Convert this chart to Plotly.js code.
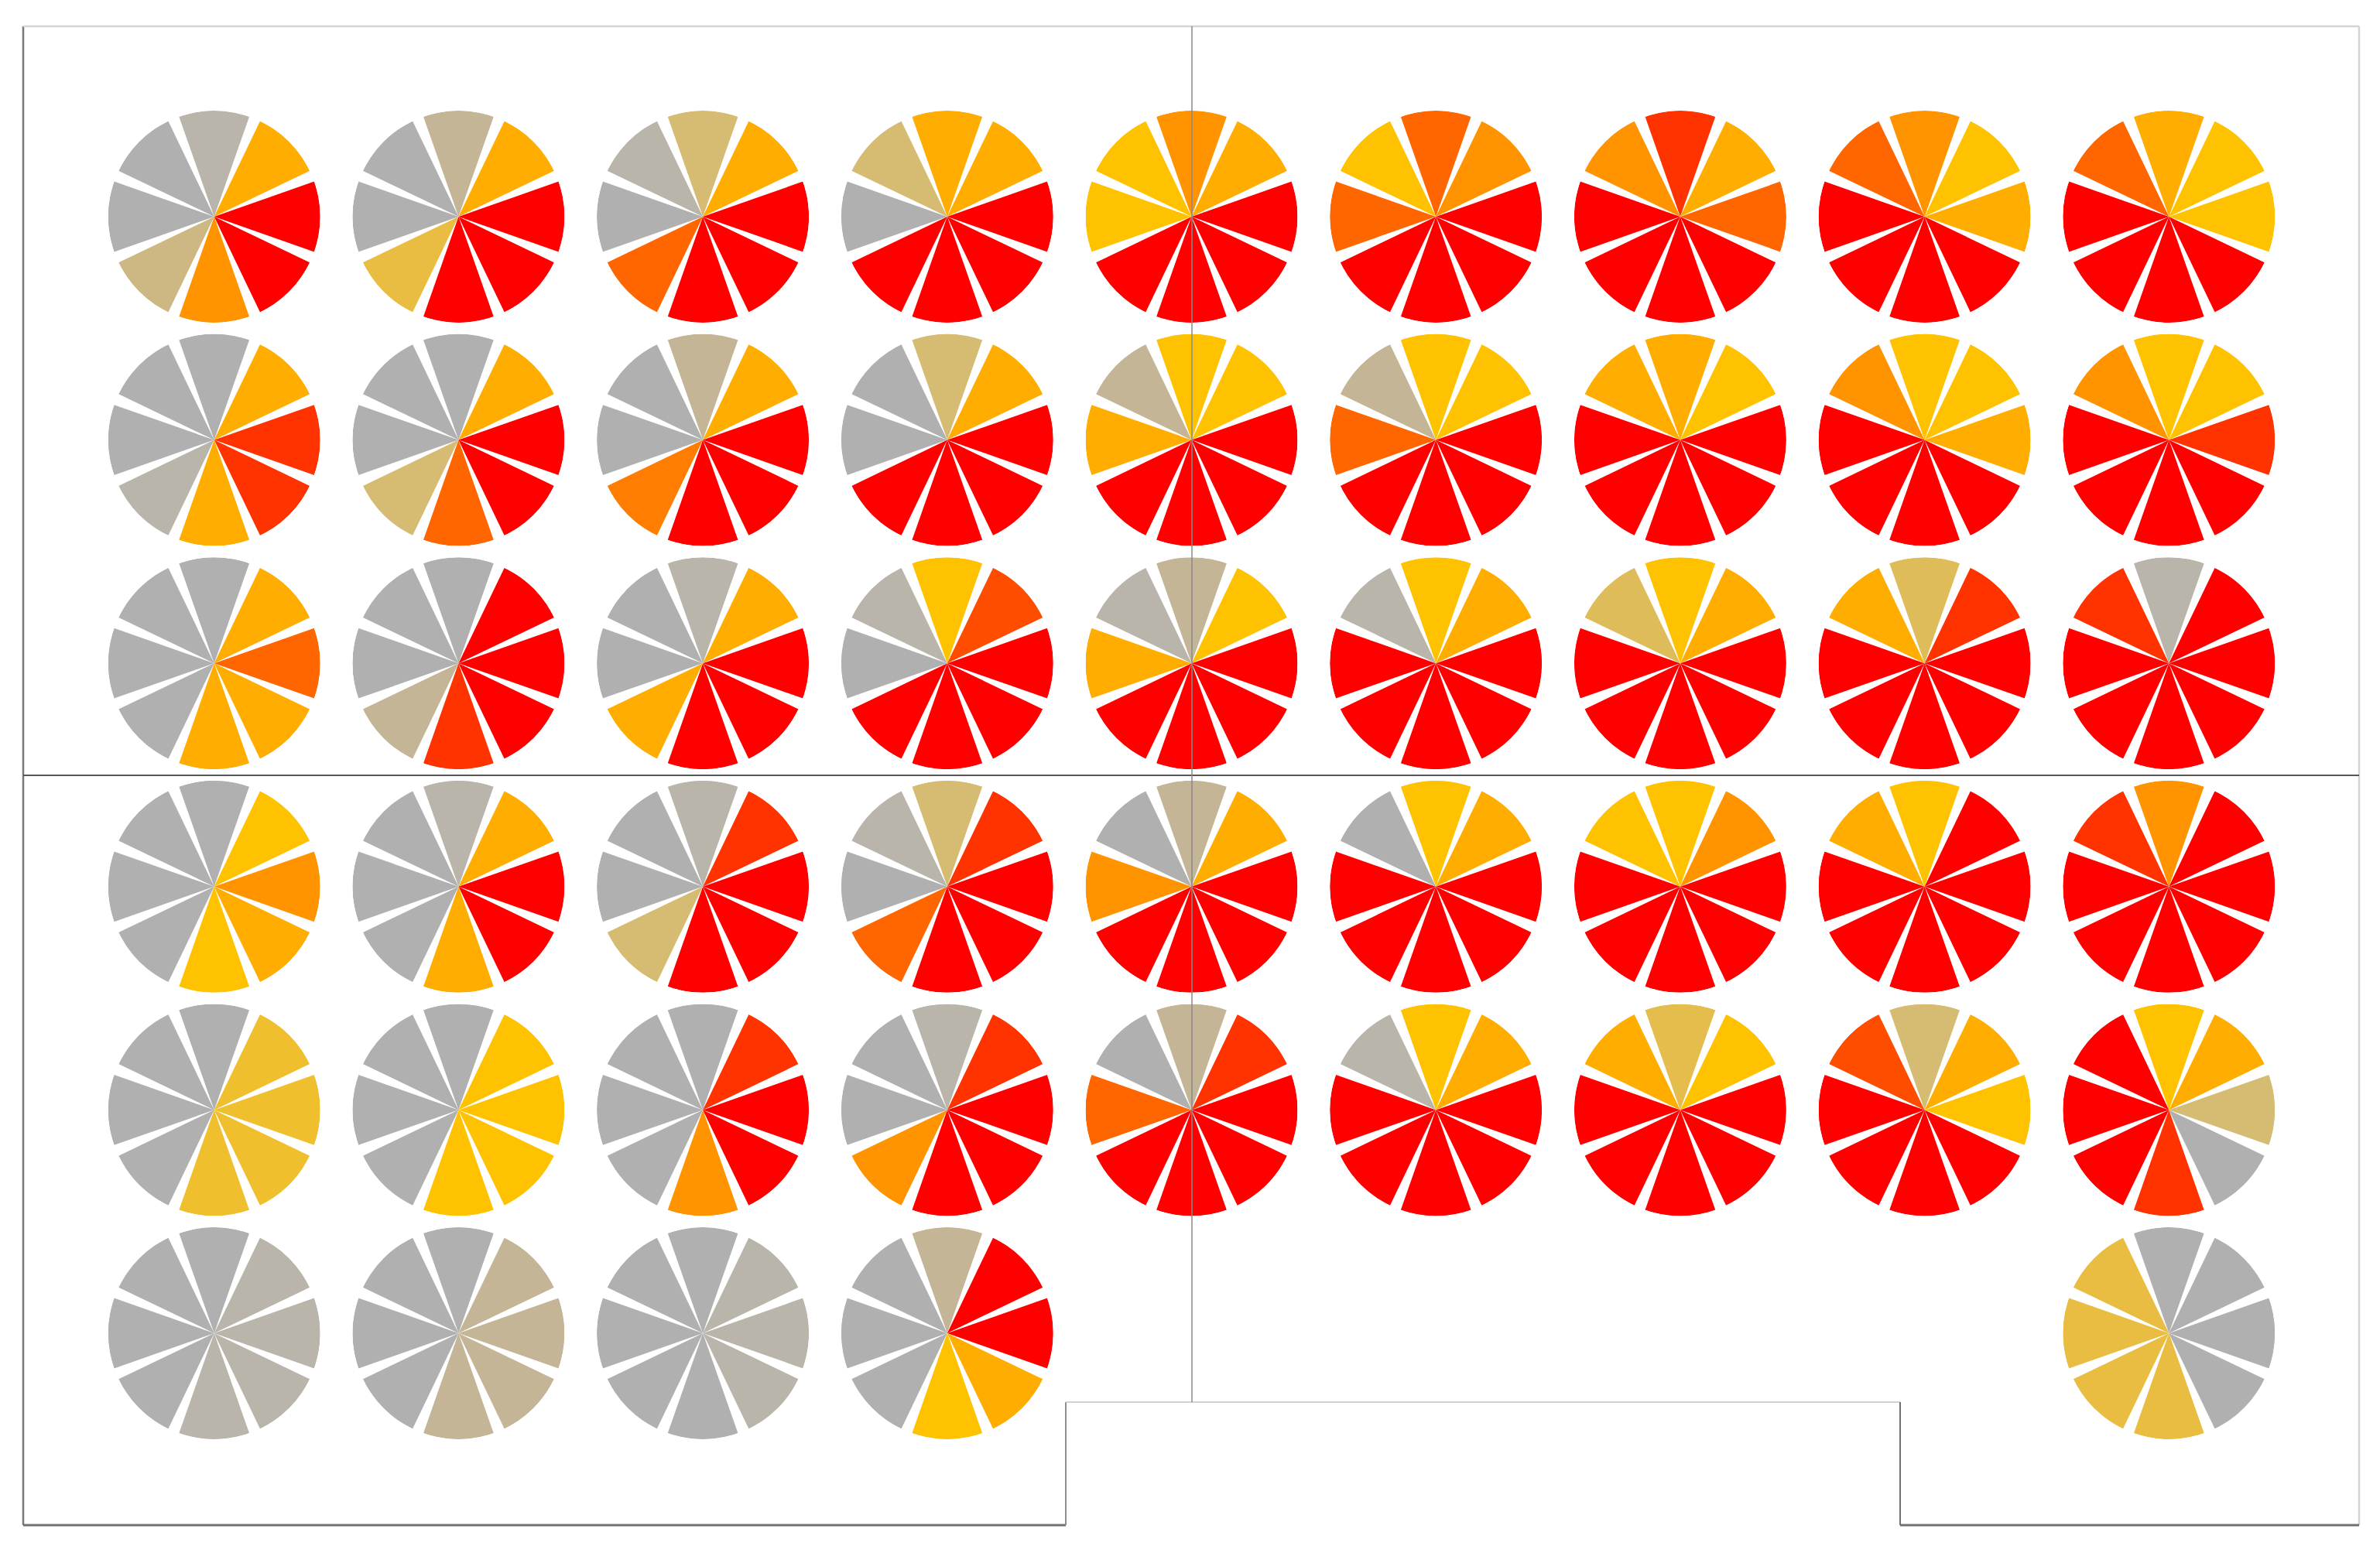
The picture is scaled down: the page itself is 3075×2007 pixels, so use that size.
<!DOCTYPE html>
<html>
<head>
<meta charset="utf-8">
<script src="https://cdn.plot.ly/plotly-3.0.1.min.js"></script>
<style>
  html, body { margin: 0; padding: 0; background: #fff; }
  #chart { width: 3075px; height: 2007px; }
</style>
</head>
<body>
<div id="chart"></div>
<script>
// 8 directions, clockwise from north
const directions = ['N', 'NE', 'E', 'SE', 'S', 'SW', 'W', 'NW'];

// level (0 = grey ... 10 = red) per direction, one glyph per grid point
const row1 = [
  [1, 6, 10, 10, 7, 2.5, 0, 0],
  [2, 6, 10, 10, 10, 4, 0, 0],
  [3, 6, 10, 10, 10, 8, 0, 1],
  [6, 6, 10, 10, 10, 10, 0, 3],
  [7, 6, 10, 10, 10, 10, 5, 5],
  [8, 7, 10, 10, 10, 10, 8, 5],
  [9, 6, 8, 10, 10, 10, 10, 7],
  [7, 5, 6, 10, 10, 10, 10, 8],
  [6, 5, 5, 10, 10, 10, 10, 8]
];
const row2 = [
  [0, 6, 9, 9, 6, 1, 0, 0],
  [0, 6, 10, 10, 8, 3, 0, 0],
  [2, 6, 10, 10, 10, 7.5, 0, 0],
  [3, 6, 10, 10, 10, 10, 0, 0],
  [5, 5, 10, 10, 10, 10, 6, 2],
  [5, 5, 10, 10, 10, 10, 8, 2],
  [6, 5, 10, 10, 10, 10, 10, 6],
  [5, 5, 6, 10, 10, 10, 10, 7],
  [5, 5, 9, 10, 10, 10, 10, 7]
];
const row3 = [
  [0, 6, 8, 6, 6, 0, 0, 0],
  [0, 10, 10, 10, 9, 2, 0, 0],
  [1, 6, 10, 10, 10, 6, 0, 0],
  [5, 8.5, 10, 10, 10, 10, 0, 1],
  [2, 5, 10, 10, 10, 10, 6, 1],
  [5, 6, 10, 10, 10, 10, 10, 1],
  [5, 6, 10, 10, 10, 10, 10, 3.5],
  [3.5, 9, 10, 10, 10, 10, 10, 6],
  [1, 10, 10, 10, 10, 10, 10, 9]
];
const row4 = [
  [0, 5, 7, 6, 5, 0, 0, 0],
  [1, 6, 10, 10, 6, 0, 0, 0],
  [1, 9, 10, 10, 10, 3, 0, 0],
  [3, 9, 10, 10, 10, 8, 0, 1],
  [2, 6, 10, 10, 10, 10, 7, 0],
  [5, 6, 10, 10, 10, 10, 10, 0],
  [5, 7, 10, 10, 10, 10, 10, 5],
  [5, 10, 10, 10, 10, 10, 10, 6],
  [7, 10, 10, 10, 10, 10, 10, 9]
];
const row5 = [
  [0, 4.3, 4.3, 4.3, 4.3, 0, 0, 0],
  [0, 5, 5, 5, 5, 0, 0, 0],
  [0, 9, 10, 10, 7, 0, 0, 0],
  [1, 9, 10, 10, 10, 7, 0, 0],
  [2, 9, 10, 10, 10, 10, 8, 0],
  [5, 6, 10, 10, 10, 10, 10, 1],
  [3.8, 5, 10, 10, 10, 10, 10, 6],
  [3, 6, 5, 10, 10, 10, 10, 8.5],
  [5, 6, 3, 0, 9, 10, 10, 10]
];
const row6 = [
  [0, 1, 1, 1, 1, 0, 0, 0],
  [0, 2, 2, 2, 2, 0, 0, 0],
  [0, 1, 1, 1, 0, 0, 0, 0],
  [2, 10, 10, 6, 5, 0, 0, 0],
  null, null, null, null,
  [0, 0, 0, 0, 4, 4, 4, 4]
];
const rows = [row1, row2, row3, row4, row5, row6];

// colour for each level 0..10
const levelColors = [
  '#b0b0b0', '#b9b5ab', '#c4b596', '#d6bb72', '#e8bd42',
  '#ffc200', '#ffad00', '#ff9400', '#ff6600', '#ff3300', '#ff0000'
];

const W = 3075, H = 2007;
const colorscale = levelColors.map((c, i) => [i / (levelColors.length - 1), c]);

// grid of glyph centres (pixels)
const X0 = 276.7, DX = 315.7, Y0 = 280, DY = 288.6, R = 137;

const traces = [];
const layout = {
  width: W, height: H,
  margin: { l: 0, r: 0, t: 0, b: 0 },
  paper_bgcolor: '#ffffff',
  showlegend: false,
  shapes: []
};

let n = 0;
rows.forEach((row, ri) => {
  row.forEach((vals, ci) => {
    if (!vals) return;
    n++;
    const name = n === 1 ? 'polar' : 'polar' + n;
    const cx = X0 + ci * DX, cy = Y0 + ri * DY;
    layout[name] = {
      domain: {
        x: [(cx - R) / W, (cx + R) / W],
        y: [1 - (cy + R) / H, 1 - (cy - R) / H]
      },
      bgcolor: 'rgba(0,0,0,0)',
      radialaxis: { visible: false, range: [0, 1] },
      angularaxis: { visible: false, rotation: 90, direction: 'clockwise', categoryorder: 'array', categoryarray: directions }
    };
    traces.push({
      type: 'barpolar',
      subplot: name,
      r: vals.map(() => 1),
      theta: directions,
      width: vals.map(() => 0.86),
      marker: {
        color: vals,
        colorscale: colorscale,
        cmin: 0, cmax: 10,
        line: { width: 0 }
      },
      hoverinfo: 'theta+text',
      text: vals.map(String)
    });
  });
});

// floor plan outline (pixel coordinates -> paper)
function line(x0, y0, x1, y1, color, width) {
  layout.shapes.push({
    type: 'line', xref: 'paper', yref: 'paper',
    x0: x0 / W, x1: x1 / W, y0: 1 - y0 / H, y1: 1 - y1 / H,
    line: { color: color, width: width }
  });
}
line(30, 34, 30, 1971, '#787878', 2.5);
line(30, 34, 3048, 34, '#d3d3da', 2.5);
line(3048, 34, 3048, 1971, '#d5d5d5', 2.5);
line(30, 1971, 1377, 1971, '#707070', 3);
line(1377, 1812, 1377, 1971, '#8e8e8e', 2);
line(1377, 1812, 2455, 1812, '#d0d0d8', 2);
line(2455, 1812, 2455, 1971, '#727272', 2);
line(2455, 1971, 3048, 1971, '#707070', 3);
line(30, 1002, 3048, 1002, '#555555', 2);
line(1540, 34, 1540, 1812, '#8a8a8a', 1.5);

Plotly.newPlot('chart', traces, layout, { displayModeBar: false, staticPlot: true });
</script>
</body>
</html>
